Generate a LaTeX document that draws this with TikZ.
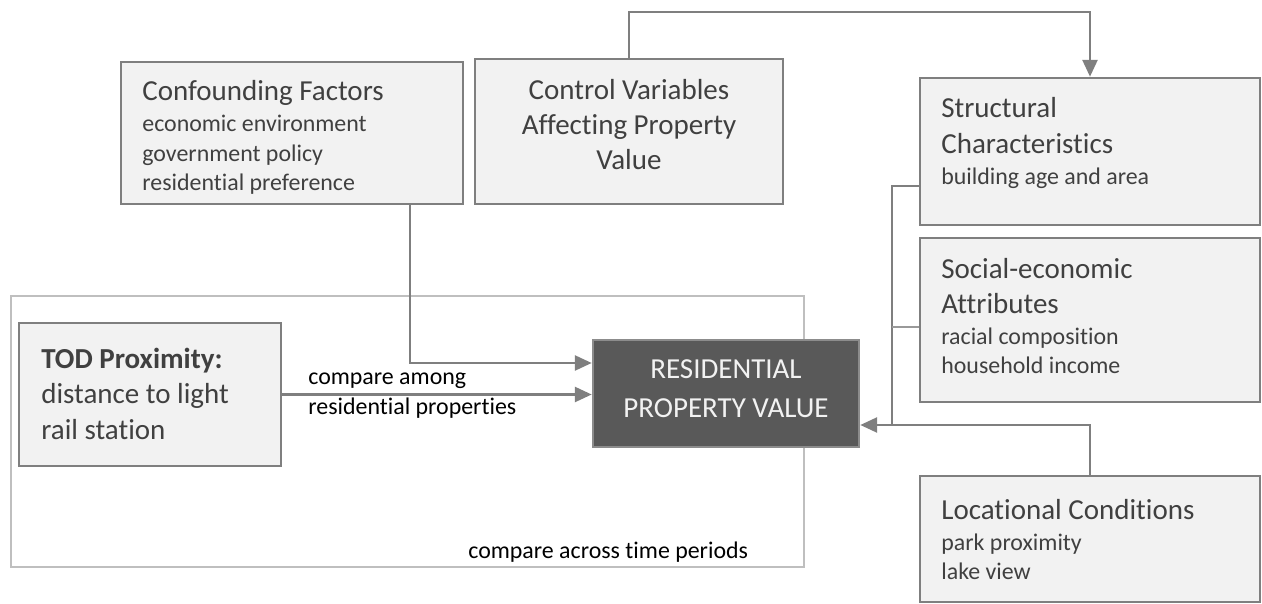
\documentclass[tikz,border=0pt]{standalone}
\usepackage{fontspec}
\setmainfont{Carlito}[Ligatures=NoCommon]
\usetikzlibrary{arrows.meta, positioning, fit}
\definecolor{BoxFill}{HTML}{F2F2F2}
\definecolor{BoxLine}{HTML}{7F7F7F}
\definecolor{BoxText}{HTML}{404040}
\definecolor{FrameLine}{HTML}{BFBFBF}
\definecolor{ResFill}{HTML}{595959}
\definecolor{ResText}{HTML}{F2F2F2}
\newcommand{\boxhead}[1]{{\fontsize{16.5}{20.2}\selectfont #1}}

\begin{document}
\begin{tikzpicture}[x=0.02cm, y=-0.02cm,
  box/.style={draw=BoxLine, fill=BoxFill, line width=1.5pt, inner sep=0pt},
  txt/.style={text=BoxText, inner sep=0pt, align=left, font=\fontsize{13.6}{16.8}\selectfont},
  head/.style={text=BoxText, inner sep=0pt, font=\fontsize{16.5}{20.2}\selectfont},
  link/.style={draw=BoxLine, line width=1.25pt},
  thin link/.style={draw=BoxLine!80, line width=0.7pt},
  conn/.style={link, -{Triangle[length=9.5pt, width=8.5pt]}},
  lbl/.style={text=black, inner sep=0pt, font=\fontsize{13.6}{17.6}\selectfont}]
  \useasboundingbox (0,0) rectangle (1262,604);

  % time comparison frame
  \node[draw=FrameLine, line width=1.2pt, inner sep=0pt, fit={(11,296) (804,567)}] (frame) {};
  \node[lbl, anchor=base west] (across) at (468,559) {compare across time periods};

  % boxes
  \node[box, fit={(121,62) (463,204)}] (conf) {};
  \node[box, fit={(475,59) (783,204)}] (ctrl) {};
  \node[box, fit={(920,78) (1260,225)}] (struct) {};
  \node[box, fit={(920,238) (1260,402)}] (social) {};
  \node[box, fit={(920,476) (1260,602)}] (loc) {};
  \node[box, fit={(19,323) (281,466)}] (tod) {};
  \node[box, draw=BoxLine!90, fill=ResFill, fit={(593,340) (859,447)}] (res) {};

  % box texts (base = last line)
  \node[txt, anchor=base west] (conftxt) at (142,190.7)
       {\boxhead{Confounding Factors}\\[0.8pt] economic environment\\ government policy\\ residential preference};
  \node[head, align=center, anchor=base] (ctrltxt) at (629,169.3)
       {Control Variables\\[-0.3pt] Affecting Property\\[-0.3pt] Value};
  \node[txt, anchor=base west] (structtxt) at (941,184.3)
       {\boxhead{Structural}\\[3.4pt] \boxhead{Characteristics}\\[0.8pt] building age and area};
  \node[txt, anchor=base west] (socialtxt) at (941,374)
       {\boxhead{Social-economic}\\[3.4pt] \boxhead{Attributes}\\[0.8pt] racial composition\\ household income};
  \node[txt, anchor=base west] (loctxt) at (941,580)
       {\boxhead{Locational Conditions}\\[0.8pt] park proximity\\ lake view};
  \node[head, align=left, anchor=base west] (todtxt) at (41,439.3)
       {\textbf{TOD Proximity:}\\ distance to light\\ rail station};
  \node[head, text=ResText, align=center, anchor=base, font=\fontsize{16.5}{21.8}\selectfont] (restxt) at (726,417.3)
       {RESIDENTIAL\\ PROPERTY VALUE};

  % connectors
  \coordinate (top) at (0,12);
  \coordinate (confdrop) at (410,363);
  \coordinate (structjoin) at (892,186);
  \coordinate (socjoin) at (892,327);
  \coordinate (bus) at (892,425);
  \draw[conn] (ctrl.north) -- (ctrl.north |- top) -| (struct.north);
  \draw[conn] (conf.south -| confdrop) |- (res.west |- confdrop);
  \draw[conn] (tod.east) -- (tod.east -| res.west);
  \node[lbl, align=left, anchor=base west] (among) at (308,415) {compare among\\ residential properties};
  \draw[link] (struct.west |- structjoin) -- (structjoin) -- (bus);
  \draw[thin link] (social.west |- socjoin) -- (socjoin);
  \draw[conn] (loc.north) |- (res.east |- bus);
\end{tikzpicture}
\end{document}
